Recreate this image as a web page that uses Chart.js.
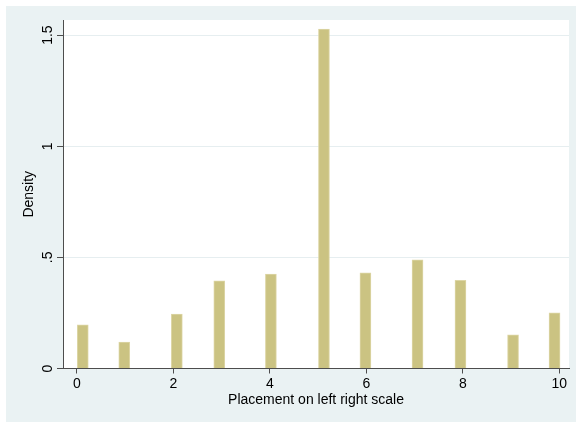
<!DOCTYPE html>
<html>
<head>
<meta charset="utf-8">
<script src="https://cdn.jsdelivr.net/npm/chart.js@4/dist/chart.umd.min.js"></script>
<style>
  html, body { margin: 0; padding: 0; background: #ffffff; }
  #wrap { width: 576px; height: 422px; }
</style>
</head>
<body>
<div id="wrap"><canvas id="chart_density" width="576" height="422"></canvas></div>
<script>
// histogram bins (bin centre on the placement scale) and their densities
var binCentres = [0.12, 0.98, 2.07, 2.95, 4.02, 5.12, 5.98, 7.06, 7.95, 9.04, 9.9];
var densities = [0.196, 0.119, 0.245, 0.394, 0.425, 1.527, 0.43, 0.489, 0.397, 0.151, 0.251];

var xTickValues = [0, 2, 4, 6, 8, 10];
var yTickValues = [0, 0.5, 1, 1.5];
var yTickLabels = ['0', '.5', '1', '1.5'];

var xTitle = 'Placement on left right scale';
var yTitle = 'Density';

var fontFamily = '"Liberation Sans", Arial, Helvetica, sans-serif';
var axisColor = '#4d4d4d';

var points = binCentres.map(function (c, i) { return { x: c, y: densities[i] }; });

var chart_density = new Chart(document.getElementById('chart_density'), {
    type: 'bar',
    data: {
        datasets: [
            {
                label: yTitle,
                data: points,
                backgroundColor: '#cbc382',
                borderColor: '#ddd6a6',
                borderWidth: 1,
                barThickness: 11
            }
        ]
    },
    options: {
        animation: false,
        responsive: false,
        maintainAspectRatio: false,
        layout: {
            padding: { left: 6, top: 20, right: 7, bottom: 0 }
        },
        plugins: {
            legend: { display: false },
            tooltip: { enabled: false }
        },
        scales: {
            x: {
                type: 'linear',
                offset: false,
                min: -0.29,
                max: 10.2,
                afterBuildTicks: (scale) => {
                    scale.ticks = xTickValues.map(v => ({ value: v }));
                },
                afterFit: (scale) => { scale.height = 53.5; },
                grid: {
                    offset: false,
                    drawOnChartArea: false,
                    tickLength: 5,
                    tickColor: axisColor
                },
                border: { color: axisColor, width: 1 },
                ticks: {
                    color: '#000',
                    padding: 2,
                    font: { family: fontFamily, size: 14 },
                    maxRotation: 0
                },
                title: {
                    display: true,
                    text: xTitle,
                    color: '#000',
                    font: { family: fontFamily, size: 14 },
                    padding: { top: 0, bottom: 13 }
                }
            },
            y: {
                min: 0,
                max: 1.568,
                afterBuildTicks: (scale) => {
                    scale.ticks = yTickValues.map(v => ({ value: v }));
                },
                afterFit: (scale) => { scale.width = 57; },
                grid: {
                    color: '#e6eef0',
                    tickLength: 6,
                    tickColor: axisColor
                },
                border: { color: axisColor, width: 1 },
                ticks: { display: false },
                title: {
                    display: true,
                    text: yTitle,
                    color: '#000',
                    font: { family: fontFamily, size: 14 },
                    padding: { top: 15, bottom: 0 }
                }
            }
        }
    },
    plugins: [{
        id: 'stataBackground',
        beforeDraw: (chart) => {
            const ctx = chart.ctx;
            const a = chart.chartArea;
            ctx.save();
            ctx.fillStyle = '#ffffff';
            ctx.fillRect(0, 0, chart.width, chart.height);
            ctx.fillStyle = '#eaf2f3';
            ctx.fillRect(6, 6, chart.width - 6, chart.height - 6);
            ctx.fillStyle = '#ffffff';
            ctx.fillRect(a.left, a.top, a.right - a.left, a.bottom - a.top);
            ctx.restore();
        }
    }, {
        id: 'rotatedYLabels',
        afterDraw: (chart) => {
            const ctx = chart.ctx;
            const y = chart.scales.y;
            ctx.save();
            ctx.fillStyle = '#000';
            ctx.font = '14px ' + fontFamily;
            ctx.textAlign = 'center';
            ctx.textBaseline = 'alphabetic';
            yTickValues.forEach((v, i) => {
                ctx.save();
                ctx.translate(y.right - 11, y.getPixelForValue(v));
                ctx.rotate(-Math.PI / 2);
                ctx.fillText(yTickLabels[i], 0, 0);
                ctx.restore();
            });
            ctx.restore();
        }
    }]
});
</script>
</body>
</html>
